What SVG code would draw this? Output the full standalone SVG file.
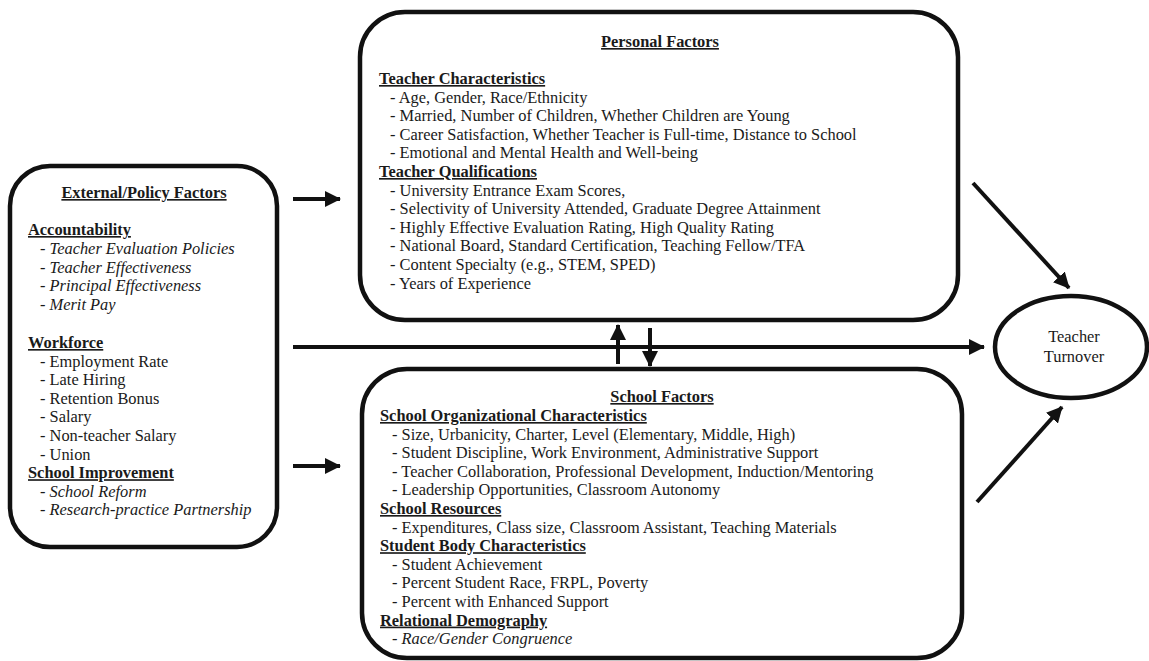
<svg xmlns="http://www.w3.org/2000/svg" width="1149" height="661" viewBox="0 0 1149 661">
<style>
.box{fill:#fff;stroke:#111;stroke-width:4.5}
.t{font-family:"Liberation Serif","Times New Roman",serif;font-size:16.4px;fill:#1a1a1a}
.h{font-weight:bold;text-decoration:underline}
.i{font-style:italic}
.c{text-anchor:middle}
.ln{stroke:#111;stroke-width:4;fill:none;marker-end:url(#ah)}
</style>
<defs>
<marker id="ah" markerUnits="userSpaceOnUse" markerWidth="16" markerHeight="16" refX="15" refY="8" orient="auto">
<path d="M0,0 L16,8 L0,16 z" fill="#111"/>
</marker>
</defs>
<rect width="1149" height="661" fill="#fff"/>

<g id="connectors">
<line class="ln" x1="293" y1="199" x2="340" y2="199"/>
<line class="ln" x1="293" y1="466" x2="340" y2="466"/>
<line class="ln" x1="293" y1="347" x2="984" y2="347"/>
<line class="ln" x1="618" y1="364" x2="618" y2="325"/>
<line class="ln" x1="650" y1="328" x2="650" y2="366"/>
<line class="ln" x1="973" y1="183" x2="1069" y2="288"/>
<line class="ln" x1="977" y1="502" x2="1062" y2="407"/>
</g>

<g id="external">
<rect class="box" x="10" y="166" width="267" height="381" rx="40" ry="40"/>
<text class="t h c" x="144" y="198">External/Policy Factors</text>
<text class="t h" x="28" y="235">Accountability</text>
<text class="t i" x="40" y="254">- Teacher Evaluation Policies</text>
<text class="t i" x="40" y="272.6">- Teacher Effectiveness</text>
<text class="t i" x="40" y="291.2">- Principal Effectiveness</text>
<text class="t i" x="40" y="309.8">- Merit Pay</text>
<text class="t h" x="28" y="348">Workforce</text>
<text class="t" x="40" y="366.6">- Employment Rate</text>
<text class="t" x="40" y="385.2">- Late Hiring</text>
<text class="t" x="40" y="403.8">- Retention Bonus</text>
<text class="t" x="40" y="422.4">- Salary</text>
<text class="t" x="40" y="441">- Non-teacher Salary</text>
<text class="t" x="40" y="459.6">- Union</text>
<text class="t h" x="28" y="478.2">School Improvement</text>
<text class="t i" x="40" y="496.8">- School Reform</text>
<text class="t i" x="40" y="515.4">- Research-practice Partnership</text>
</g>

<g id="personal">
<rect class="box" x="360" y="12" width="598" height="308" rx="45" ry="45"/>
<text class="t h c" x="660" y="47">Personal Factors</text>
<text class="t h" x="379" y="84">Teacher Characteristics</text>
<text class="t" x="390" y="102.6">- Age, Gender, Race/Ethnicity</text>
<text class="t" x="390" y="121.2">- Married, Number of Children, Whether Children are Young</text>
<text class="t" x="390" y="139.8">- Career Satisfaction, Whether Teacher is Full-time, Distance to School</text>
<text class="t" x="390" y="158.4">- Emotional and Mental Health and Well-being</text>
<text class="t h" x="379" y="177">Teacher Qualifications</text>
<text class="t" x="390" y="195.6">- University Entrance Exam Scores,</text>
<text class="t" x="390" y="214.2">- Selectivity of University Attended, Graduate Degree Attainment</text>
<text class="t" x="390" y="232.8">- Highly Effective Evaluation Rating, High Quality Rating</text>
<text class="t" x="390" y="251.4">- National Board, Standard Certification, Teaching Fellow/TFA</text>
<text class="t" x="390" y="270">- Content Specialty (e.g., STEM, SPED)</text>
<text class="t" x="390" y="288.6">- Years of Experience</text>
</g>

<g id="school">
<rect class="box" x="362" y="369" width="600" height="289" rx="45" ry="45"/>
<text class="t h c" x="662" y="402">School Factors</text>
<text class="t h" x="380" y="421">School Organizational Characteristics</text>
<text class="t" x="392" y="439.6">- Size, Urbanicity, Charter, Level (Elementary, Middle, High)</text>
<text class="t" x="392" y="458.2">- Student Discipline, Work Environment, Administrative Support</text>
<text class="t" x="392" y="476.8">- Teacher Collaboration, Professional Development, Induction/Mentoring</text>
<text class="t" x="392" y="495.4">- Leadership Opportunities, Classroom Autonomy</text>
<text class="t h" x="380" y="514">School Resources</text>
<text class="t" x="392" y="532.6">- Expenditures, Class size, Classroom Assistant, Teaching Materials</text>
<text class="t h" x="380" y="551.2">Student Body Characteristics</text>
<text class="t" x="392" y="569.8">- Student Achievement</text>
<text class="t" x="392" y="588.4">- Percent Student Race, FRPL, Poverty</text>
<text class="t" x="392" y="607">- Percent with Enhanced Support</text>
<text class="t h" x="380" y="625.6">Relational Demography</text>
<text class="t i" x="392" y="644.2">- Race/Gender Congruence</text>
</g>

<g id="turnover">
<ellipse class="box" cx="1071" cy="347" rx="76" ry="51"/>
<text class="t c" x="1074" y="342">Teacher</text>
<text class="t c" x="1074" y="362">Turnover</text>
</g>
</svg>
